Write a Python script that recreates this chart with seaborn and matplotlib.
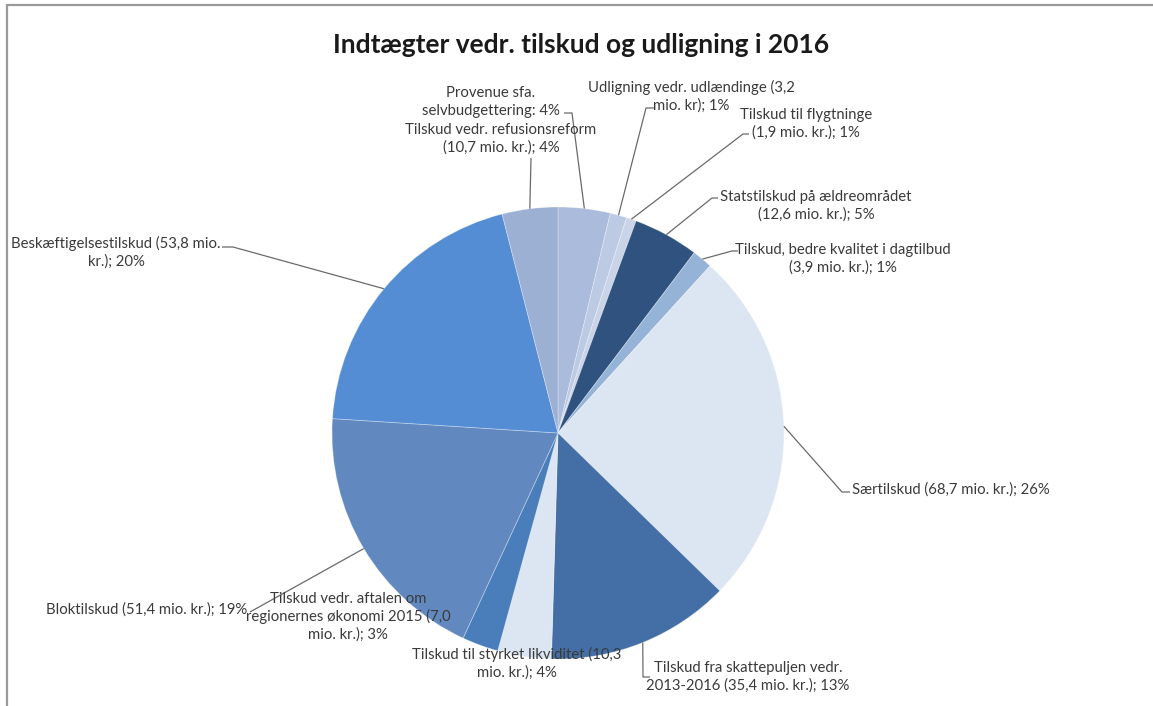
import matplotlib
matplotlib.use("Agg")
import matplotlib.pyplot as plt
import seaborn as sns
import numpy as np

# ---------------- data ----------------
categories = [
    "Provenue sfa. selvbudgettering",
    "Udligning vedr. udlændinge",
    "Tilskud til flygtninge",
    "Statstilskud på ældreområdet",
    "Tilskud, bedre kvalitet i dagtilbud",
    "Særtilskud",
    "Tilskud fra skattepuljen vedr. 2013-2016",
    "Tilskud til styrket likviditet",
    "Tilskud vedr. aftalen om regionernes økonomi 2015",
    "Bloktilskud",
    "Beskæftigelsestilskud",
    "Tilskud vedr. refusionsreform",
]
values = [10.0, 3.2, 1.9, 12.6, 3.9, 68.7, 35.4, 10.3, 7.0, 51.4, 53.8, 10.7]
label_texts = [
    "Provenue sfa.\nselvbudgettering: 4%",
    "Udligning vedr. udlændinge (3,2\nmio. kr); 1%",
    "Tilskud til flygtninge\n(1,9 mio. kr.); 1%",
    "Statstilskud på ældreområdet\n(12,6 mio. kr.); 5%",
    "Tilskud, bedre kvalitet i dagtilbud\n(3,9 mio. kr.); 1%",
    "Særtilskud (68,7 mio. kr.); 26%",
    "Tilskud fra skattepuljen vedr.\n2013-2016 (35,4 mio. kr.); 13%",
    "Tilskud til styrket likviditet (10,3\nmio. kr.); 4%",
    "Tilskud vedr. aftalen om\nregionernes økonomi 2015 (7,0\nmio. kr.); 3%",
    "Bloktilskud (51,4 mio. kr.); 19%",
    "Beskæftigelsestilskud (53,8 mio.\nkr.); 20%",
    "Tilskud vedr. refusionsreform\n(10,7 mio. kr.); 4%",
]
title = "Indtægter vedr. tilskud og udligning i 2016"

# ---------------- style ----------------
colors = ["#AABBDC", "#BCCAE3", "#C9D4E9", "#2F537E", "#95B3D7", "#DCE6F2",
          "#436EA6", "#DCE6F2", "#4A7EBB", "#6189C0", "#548DD4", "#9CB0D4"]

# label layout in pixel coordinates (x, y, ha) and leader path (after edge point)
layout = [
    ((491, 102, "center"), [(572, 113), (564, 113)]),
    ((691, 96, "center"), [(646, 108), (654, 108)]),
    ((806, 124, "center"), [(743, 134), (749, 134)]),
    ((816, 206, "center"), [(712, 198), (718, 198)]),
    ((843, 259, "center"), [(732, 251), (738, 251)]),
    ((852, 490, "left"), [(842, 492), (850, 492)]),
    ((748, 677, "center"), [(643, 677), (650, 677)]),
    ((517, 663, "center"), None),
    ((348, 617, "center"), None),
    ((247, 610, "right"), [(250, 612)]),
    ((116, 252, "center"), [(233, 247), (222, 247)]),
    ((501, 139, "center"), [(531, 158)]),
]

W, H = 1153, 706
CX, CY, R = 558, 433, 226

sns.set_theme(style="white")
plt.rcParams["font.family"] = ["Lato", "DejaVu Sans"]

fig = plt.figure(figsize=(W / 100, H / 100), dpi=100)
ax = fig.add_axes([0, 0, 1, 1])
ax.set_facecolor("white")

pal = sns.color_palette(colors)
wedges, _ = ax.pie(values, colors=pal, startangle=270, counterclock=True,
                   center=(CX, CY), radius=R,
                   wedgeprops=dict(edgecolor=(1, 1, 1, 0.35), linewidth=0.6))
ax.set_xlim(0, W)
ax.set_ylim(H, 0)
ax.set_aspect("equal")
ax.axis("off")

vals = np.array(values, dtype=float)
cum = np.cumsum(vals) / vals.sum()
mids = (cum - vals / vals.sum() / 2) * 360.0

text_color = "#3a3a3a"
line_color = "#6a6a6a"
for i, txt in enumerate(label_texts):
    (tx, ty, ha), path = layout[i]
    ax.text(tx, ty, txt, ha=ha, va="center", fontsize=10.7, color=text_color,
            linespacing=1.3, multialignment="center")
    if path:
        th = np.deg2rad(mids[i])
        ex, ey = CX + R * np.sin(th), CY - R * np.cos(th)
        xs = [ex] + [p[0] for p in path]
        ys = [ey] + [p[1] for p in path]
        ax.plot(xs, ys, color=line_color, lw=0.9, solid_capstyle="butt")

ax.text(581, 45, title, ha="center", va="center", fontsize=19,
        fontweight="bold", color="#1a1a1a")

# chart frame (top and left edges visible)
ax.plot([7, W], [5, 5], color="#9a9a9a", lw=1.6, clip_on=False)
ax.plot([7, 7], [5, H], color="#9a9a9a", lw=1.6, clip_on=False)

fig.savefig("out.png", dpi=100, facecolor="white")
